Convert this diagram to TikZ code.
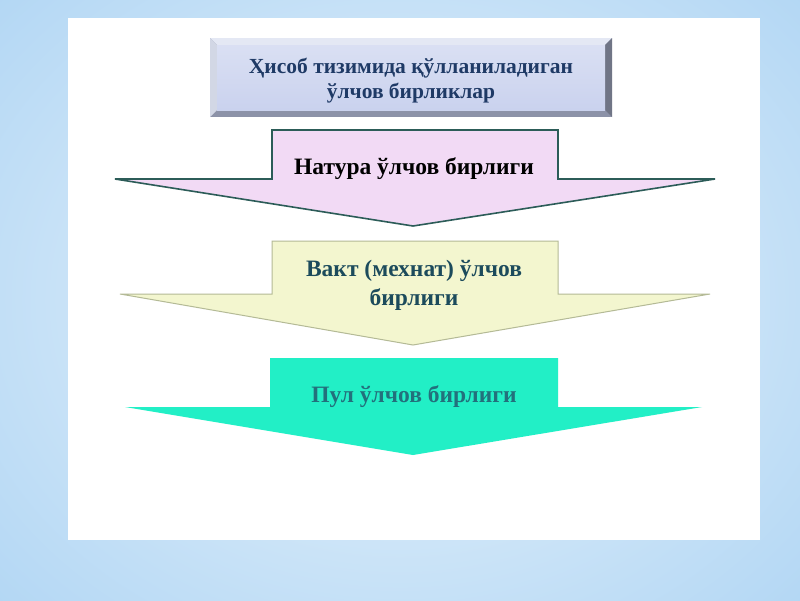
\documentclass[tikz,border=0pt]{standalone}
\usepackage{fontspec}
\setmainfont{Liberation Serif}
\definecolor{bgblue}{HTML}{B3D7F4}
\definecolor{bglight}{HTML}{EAF4FC}
\definecolor{titlefill}{HTML}{CAD2EE}
\definecolor{titletext}{HTML}{1F3A66}
\definecolor{bevellight}{HTML}{E4E8F4}
\definecolor{beveldark}{HTML}{8C92A8}
\definecolor{natfill}{HTML}{F2DAF5}
\definecolor{natline}{HTML}{2C5C58}
\definecolor{vaktfill}{HTML}{F3F6CF}
\definecolor{vaktline}{HTML}{B4BA96}
\definecolor{vakttext}{HTML}{1C4B5C}
\definecolor{pulfill}{HTML}{22EFC6}
\definecolor{pultext}{HTML}{23707C}
\tikzset{
  label/.style={font=\fontsize{23.5}{29}\selectfont\bfseries, align=center},
  titlelabel/.style={font=\fontsize{21.5}{25}\selectfont\bfseries, align=center},
}
\begin{document}
\begin{tikzpicture}[x=1pt,y=-1pt]
    \useasboundingbox (0,0) rectangle (800,600);
    % background and slide panel
    \shade[inner color=bglight, outer color=bgblue] (-150,-150) rectangle (950,750);
    \fill[white] (68,18) rectangle (760,540);

    % title frame with bevel
    \fill[beveldark] (210,38) rectangle (612,117);
    \fill[bevellight] (210,38) -- (612,38) -- (605,45) -- (217,45) -- cycle;
    \fill[bevellight!80!beveldark] (210,38) -- (217,45) -- (217,110) -- (210,117) -- cycle;
    \fill[beveldark!80!black] (612,38) -- (612,117) -- (605,110) -- (605,45) -- cycle;
    \shade[top color=titlefill!70!white, bottom color=titlefill] (217,45) rectangle (605,110);
    \node[titlelabel, text=titletext] (title) at (411,81) {Ҳисоб тизимида қўлланиладиган\\ўлчов бирликлар};

    % arrows
    \filldraw[fill=natfill, draw=natline, line width=1.6pt, line join=miter]
      (272,130) -- (558,130) -- (558,179) -- (715,179) -- (413,226) -- (115,179) -- (272,179) -- cycle;
    \filldraw[fill=vaktfill, draw=vaktline, line width=1pt]
      (272,241) -- (558,241) -- (558,294) -- (710,294) -- (413,345) -- (120,294) -- (272,294) -- cycle;
    \fill[pulfill]
      (270,358) -- (558,358) -- (558,407) -- (702,407) -- (413,455) -- (125,407) -- (270,407) -- cycle;

    \node[label] (natura) at (414,169) {Натура ўлчов бирлиги};
    \node[label, text=vakttext] (vakt) at (414,285) {Вакт (мехнат) ўлчов\\бирлиги};
    \node[label, text=pultext] (pul) at (414,397) {Пул ўлчов бирлиги};
\end{tikzpicture}
\end{document}
